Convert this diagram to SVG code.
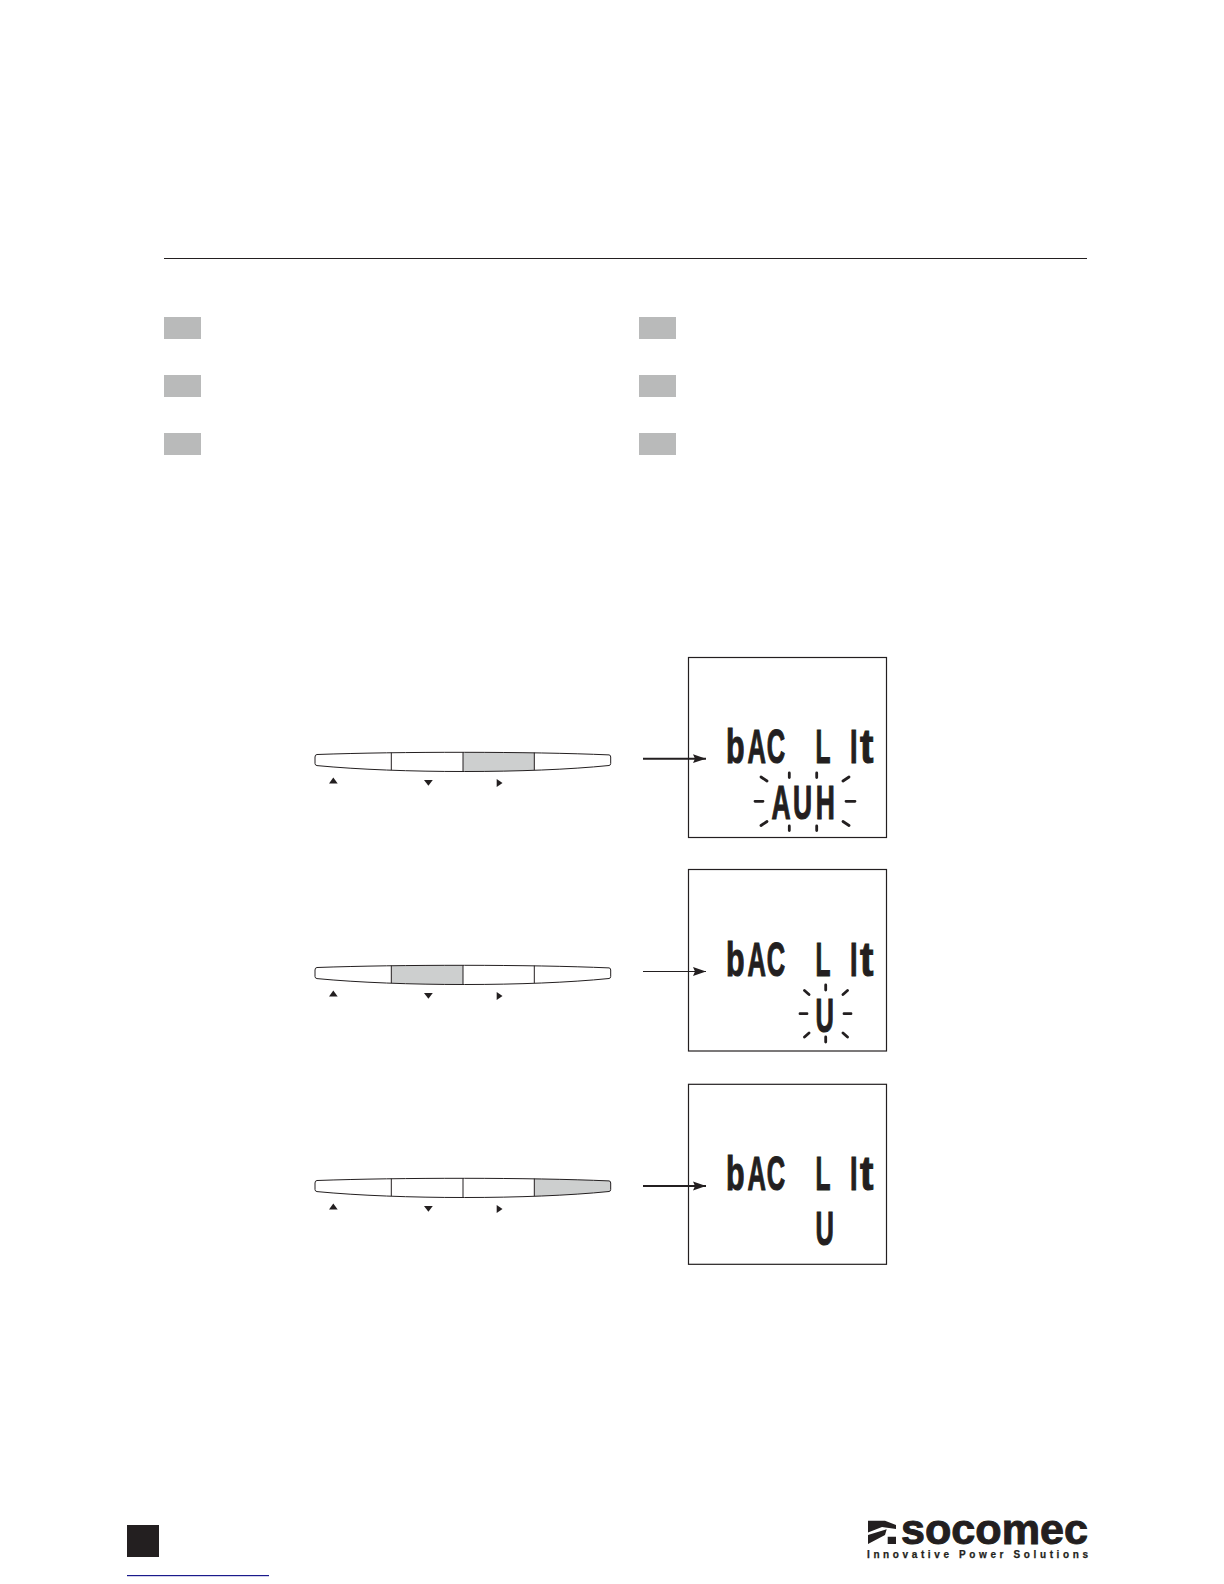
<svg xmlns="http://www.w3.org/2000/svg" width="1224" height="1584" viewBox="0 0 1224 1584">
<style>
.sq{fill:#b9baba}
.lcdbox{fill:#fff;stroke:#231f20;stroke-width:1.2}
.seg{font-family:"Liberation Sans",Arial,sans-serif;font-weight:700;font-size:49px;fill:#231f20;stroke:#231f20;stroke-width:1.2}
.ray{fill:none;stroke:#231f20;stroke-width:2.8;stroke-linecap:round}
.btn{fill:#fff}
.outline{fill:none;stroke:#231f20;stroke-width:1}
.on{fill:#cdcfcf}
.tri{fill:#231f20}
.conn{stroke:#231f20;fill:none}
</style>
<defs>
<marker id="ah" markerUnits="userSpaceOnUse" markerWidth="14" markerHeight="10" refX="13" refY="5" orient="auto"><path d="M0 0.6L13 5L0 9.4L2 5Z" fill="#231f20"/></marker>
<path id="shape" d="M315 757Q315 754.6 317 754.5C400 751.5 530 751.5 609 754.9Q610.7 755 610.7 757V763.5Q610.7 765.3 609 765.5C530 773.5 400 773.5 317 765.6Q315 765.3 315 763.5Z"/>
<clipPath id="barclip"><use href="#shape"/></clipPath>
<g id="barlines">
<use href="#shape" class="outline"/>
<path class="conn" d="M391.3 752.6V770.1M463 752.2V771.6M534.3 752.6V770.1"/>
<path class="tri" d="M333.3 777.5L337.7 783.5H329Z"/>
<path class="tri" d="M424 780H432.8L428.4 785.8Z"/>
<path class="tri" d="M496.7 779L502.5 783L496.7 787Z"/>
</g>
<g id="title">
<text class="seg" transform="translate(726 763) scale(.62 1)">b</text>
<text class="seg" transform="translate(747.5 763) scale(.52 1)" x="0 37">AC</text>
<text class="seg" transform="translate(815.5 763) scale(.5 1)">L</text>
<text class="seg" transform="translate(850 763) scale(.55 1)">I</text>
<text class="seg" transform="translate(860 763) scale(.82 1)">t</text>
</g>
</defs>
<g id="header-rule"><path d="M164 258.5H1087" stroke="#231f20" stroke-width="1.2"/></g>
<g id="labels">
<rect class="sq" x="164" y="317" width="37" height="22"/>
<rect class="sq" x="164" y="375" width="37" height="22"/>
<rect class="sq" x="164" y="433" width="37" height="22"/>
<rect class="sq" x="639" y="317" width="37" height="22"/>
<rect class="sq" x="639" y="375" width="37" height="22"/>
<rect class="sq" x="639" y="433" width="37" height="22"/>
</g>
<g id="keypad-1">
<use href="#shape" class="btn"/>
<rect class="on" x="463" y="750" width="71.3" height="24" clip-path="url(#barclip)"/>
<use href="#barlines"/>
</g>
<g id="keypad-2" transform="translate(0 213)">
<use href="#shape" class="btn"/>
<rect class="on" x="391.3" y="750" width="71.7" height="24" clip-path="url(#barclip)"/>
<use href="#barlines"/>
</g>
<g id="keypad-3" transform="translate(0 426)">
<use href="#shape" class="btn"/>
<rect class="on" x="534.3" y="750" width="77" height="24" clip-path="url(#barclip)"/>
<use href="#barlines"/>
</g>
<g id="display-1">
<rect class="lcdbox" x="688.5" y="657.5" width="198" height="180"/>
<use href="#title"/>
<text class="seg" transform="translate(771.5 818.5) scale(.54 1)" x="0 40 82">AUH</text>
<path class="ray" d="M789.3 773V777.5M816.7 773V777.5M761 777L767 781M849 777L843 781M755 801.3H763M846 801.3H855M761 825.5L767 821.5M849 825.5L843 821.5M789.3 826V830.5M816.7 826V830.5"/>
</g>
<g id="display-2">
<rect class="lcdbox" x="688.5" y="869.5" width="198" height="181.5"/>
<use href="#title" transform="translate(0 213)"/>
<text class="seg" transform="translate(815.5 1032) scale(.52 1)">U</text>
<path class="ray" d="M825.7 985V990M800 1013.7H807M844 1013.7H851M804.5 990.5L809 994.5M847.5 990.5L843 994.5M804.5 1037L809 1033M847.5 1037L843 1033M825.7 1037V1042"/>
</g>
<g id="display-3">
<rect class="lcdbox" x="688.5" y="1084.3" width="198" height="180"/>
<use href="#title" transform="translate(0 427)"/>
<text class="seg" transform="translate(815.5 1245) scale(.52 1)">U</text>
</g>
<g id="connectors">
<path class="conn" stroke-width="2" marker-end="url(#ah)" d="M643 758.7H706"/>
<path class="conn" stroke-width="1" marker-end="url(#ah)" d="M643 971.5H706"/>
<path class="conn" stroke-width="2" marker-end="url(#ah)" d="M643 1186H706"/>
</g>
<g id="footer">
<rect x="127" y="1525" width="32" height="32" fill="#231f20"/>
<rect x="127" y="1575" width="142" height="1.2" fill="#1a1a8c"/>
</g>
<g id="logo">
<path d="M868 1520.7H885L896 1525V1529L882 1527L868 1532.5ZM868 1535L886.7 1529.3L885 1535L868 1544ZM887.7 1536.7H896V1544H887.7Z" fill="#231f20"/>
<text x="901" y="1544" textLength="187" lengthAdjust="spacingAndGlyphs" font-family="'Liberation Sans',Arial,sans-serif" font-weight="700" font-size="43" fill="#231f20" stroke="#231f20" stroke-width="1">socomec</text>
<text x="867" y="1557.5" textLength="221" font-family="'Liberation Sans',Arial,sans-serif" font-weight="700" font-size="10" fill="#231f20" stroke="#231f20" stroke-width=".25">Innovative Power Solutions</text>
</g>
</svg>
